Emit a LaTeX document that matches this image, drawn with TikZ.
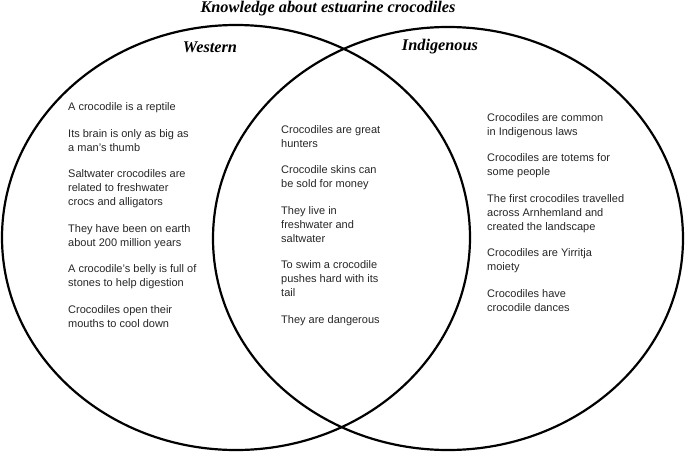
\documentclass[tikz,border=0pt]{standalone}
\usepackage{fontspec}
\setmainfont{Liberation Serif}
\setsansfont{Liberation Sans}

\tikzset{
  venn/.style={line width=2.2pt},
  fact/.style={font=\sffamily\fontsize{11}{14}\selectfont,align=left,anchor=base west,inner sep=0pt,text=black!85},
  head/.style={font=\bfseries\itshape\fontsize{16.3}{18}\selectfont,inner sep=0pt},
}

\begin{document}
\begin{tikzpicture}[x=1pt,y=-1pt]
  \useasboundingbox (0,0) rectangle (685,453);
  % the two sets
  \draw[venn] (236,237.5) ellipse [x radius=234pt, y radius=212.5pt];
  \draw[venn] (448,238.5) ellipse [x radius=235pt, y radius=211.5pt];
  \node[head] (title) at (328,9) {Knowledge about estuarine crocodiles};
  \node[head] (westhead) at (210,47) {Western};
  \node[head] (indhead) at (440,47) {Indigenous};
  % base of a multi-line node is its last line
  \def\gap{\\[12.5pt]}
  \foreach \grp/\xpos/\ypos/\facts in {%
      westfacts/68/327/{A crocodile is a reptile\gap
        Its brain is only as big as\\a man's thumb\gap
        Saltwater crocodiles are\\related to freshwater\\crocs and alligators\gap
        They have been on earth\\about 200 million years\gap
        A crocodile's belly is full of\\stones to help digestion\gap
        Crocodiles open their\\mouths to cool down},
      sharedfacts/281/323/{Crocodiles are great\\hunters\gap
        Crocodile skins can\\be sold for money\gap
        They live in\\freshwater and\\saltwater\gap
        To swim a crocodile\\pushes hard with its\\tail\gap
        They are dangerous},
      indfacts/487/311/{Crocodiles are common\\in Indigenous laws\gap
        Crocodiles are totems for\\some people\gap
        The first crocodiles travelled\\across Arnhemland and\\created the landscape\gap
        Crocodiles are Yirritja\\moiety\gap
        Crocodiles have\\crocodile dances}%
  }{%
    \node[fact] (\grp) at (\xpos,\ypos) {\facts};
  }
\end{tikzpicture}
\end{document}
